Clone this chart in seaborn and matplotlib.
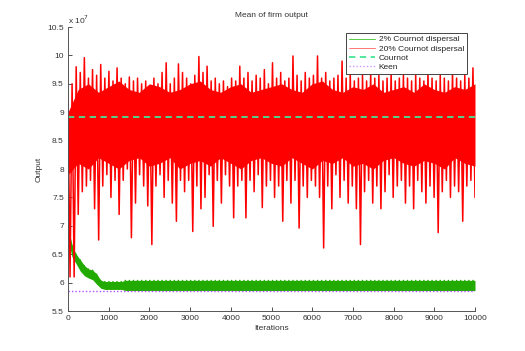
import numpy as np
import pandas as pd
import seaborn as sns
import matplotlib
matplotlib.use('Agg')
import matplotlib.pyplot as plt
from matplotlib.ticker import FuncFormatter
from matplotlib.lines import Line2D

# valores (unidades de 1e7), um par alto/baixo a cada 100 iteracoes
red_high = [9.30, 9.50, 9.80, 9.70, 9.96, 9.60, 9.75, 9.65, 9.84, 9.60,
            9.72, 9.55, 9.78, 9.60, 9.50, 9.62, 9.55, 9.60, 9.50, 9.55,
            9.45, 9.60, 9.50, 9.70, 9.87, 9.50, 9.60, 9.85, 9.70, 9.60,
            9.50, 9.65, 9.98, 9.70, 9.81, 9.55, 9.60, 9.50, 9.55, 9.45,
            9.60, 9.55, 9.81, 9.60, 9.70, 9.55, 9.65, 9.60, 9.75, 9.50,
            9.87, 9.60, 9.70, 9.55, 9.60, 9.99, 9.65, 9.55, 9.70, 9.60,
            9.65, 9.99, 9.60, 9.70, 9.55, 9.60, 9.65, 9.90, 9.60, 9.70,
            9.55, 9.60, 9.65, 9.55, 9.70, 9.60, 9.65, 9.55, 9.60, 9.70,
            9.55, 9.60, 9.65, 9.60, 9.55, 9.65, 9.60, 9.55, 9.70, 9.60,
            9.55, 9.65, 9.60, 9.55, 9.70, 9.60, 9.55, 9.65, 9.60, 9.78]
red_low = [6.10, 6.10, 7.20, 7.60, 7.70, 7.80, 7.30, 6.75, 7.70, 7.90,
           7.50, 7.80, 7.20, 7.80, 8.00, 6.79, 7.40, 7.90, 7.70, 7.35,
           6.67, 7.70, 7.90, 7.50, 7.80, 7.40, 7.08, 7.80, 7.60, 7.80,
           6.90, 7.70, 7.30, 7.50, 7.90, 6.99, 7.80, 7.40, 7.90, 7.70,
           7.14, 7.70, 7.80, 7.14, 7.80, 7.60, 7.90, 7.32, 7.70, 7.80,
           7.50, 7.70, 7.08, 7.80, 7.40, 7.80, 6.96, 7.70, 7.50, 7.80,
           7.70, 7.50, 6.61, 7.70, 7.30, 7.90, 7.50, 7.80, 7.40, 7.70,
           7.30, 6.67, 7.60, 7.80, 7.40, 7.70, 7.30, 7.60, 7.90, 7.50,
           7.70, 7.80, 7.40, 7.70, 7.30, 7.80, 7.60, 7.40, 7.70, 7.50,
           6.88, 7.60, 7.80, 7.50, 7.70, 7.60, 7.08, 7.70, 7.80, 7.50]
# faixa solida (nucleo denso) da serie vermelha, a cada 250 iteracoes
red_core_top = [9.00, 9.40, 9.50, 9.35, 9.45, 9.55, 9.40, 9.35, 9.50, 9.45,
                9.35, 9.40, 9.50, 9.55, 9.40, 9.35, 9.45, 9.50, 9.35, 9.40,
                9.45, 9.50, 9.40, 9.35, 9.50, 9.55, 9.40, 9.35, 9.45, 9.40,
                9.50, 9.35, 9.40, 9.45, 9.35, 9.50, 9.40, 9.35, 9.45, 9.40, 9.50]
red_core_bot = [7.90, 8.10, 8.00, 8.20, 8.10, 8.00, 8.15, 8.20, 8.05, 8.10,
                8.20, 8.00, 8.10, 8.15, 8.05, 8.20, 8.10, 8.00, 8.15, 8.20,
                8.10, 8.05, 8.20, 8.10, 8.00, 8.15, 8.10, 8.20, 8.05, 8.10,
                8.00, 8.15, 8.20, 8.10, 8.05, 8.15, 8.10, 8.00, 8.20, 8.10, 8.05]
green_high = [7.00, 6.65, 6.50, 6.40, 6.30, 6.24, 6.22, 6.15, 6.04, 6.02,
              6.02, 6.02, 6.02, 6.02, 6.04, 6.04, 6.04, 6.04, 6.04, 6.04,
              6.04, 6.04, 6.04, 6.04, 6.04, 6.04, 6.04, 6.04, 6.04, 6.04,
              6.04, 6.04, 6.04, 6.04, 6.04, 6.04, 6.04, 6.04, 6.04, 6.04,
              6.04, 6.04, 6.04, 6.04, 6.04, 6.04, 6.04, 6.04, 6.04, 6.04,
              6.04, 6.04, 6.04, 6.04, 6.04, 6.04, 6.04, 6.04, 6.04, 6.04,
              6.04, 6.04, 6.04, 6.04, 6.04, 6.04, 6.04, 6.04, 6.04, 6.04,
              6.04, 6.04, 6.04, 6.04, 6.04, 6.04, 6.04, 6.04, 6.04, 6.04,
              6.04, 6.04, 6.04, 6.04, 6.04, 6.04, 6.04, 6.04, 6.04, 6.04,
              6.04, 6.04, 6.04, 6.04, 6.04, 6.04, 6.04, 6.04, 6.04, 6.04]
green_low = [6.75, 6.45, 6.33, 6.20, 6.12, 6.08, 6.05, 5.97, 5.90, 5.88,
             5.88, 5.88, 5.88, 5.88, 5.86, 5.86, 5.86, 5.86, 5.86, 5.86,
             5.86, 5.86, 5.86, 5.86, 5.86, 5.86, 5.86, 5.86, 5.86, 5.86,
             5.86, 5.86, 5.86, 5.86, 5.86, 5.86, 5.86, 5.86, 5.86, 5.86,
             5.86, 5.86, 5.86, 5.86, 5.86, 5.86, 5.86, 5.86, 5.86, 5.86,
             5.86, 5.86, 5.86, 5.86, 5.86, 5.86, 5.86, 5.86, 5.86, 5.86,
             5.86, 5.86, 5.86, 5.86, 5.86, 5.86, 5.86, 5.86, 5.86, 5.86,
             5.86, 5.86, 5.86, 5.86, 5.86, 5.86, 5.86, 5.86, 5.86, 5.86,
             5.86, 5.86, 5.86, 5.86, 5.86, 5.86, 5.86, 5.86, 5.86, 5.86,
             5.86, 5.86, 5.86, 5.86, 5.86, 5.86, 5.86, 5.86, 5.86, 5.86]
cournot = 8.92
keen = 5.85
n_iter = 10000

sns.set_style('white')
plt.rcParams['font.family'] = ['Liberation Sans', 'DejaVu Sans']
plt.rcParams['font.size'] = 6

cor_verde = '#22aa00'
cor_verm = '#ff0000'
cor_cournot = '#44e495'
cor_keen = '#b050ff'

# serie em zigue-zague (alto, baixo, alto, baixo...)
it = np.linspace(0, n_iter, 2 * len(red_high))
dados = pd.DataFrame({
    'Iterations': it,
    'red': np.column_stack((red_high, red_low)).ravel() * 1e7,
    'green': np.column_stack((green_high, green_low)).ravel() * 1e7,
})
it_bin = np.linspace(0, n_iter, len(green_high))
it_core = np.linspace(0, n_iter, len(red_core_top))

fig = plt.figure(figsize=(5.25, 3.51), dpi=100)
ax = fig.add_axes([68 / 525, 40 / 351, 407 / 525, 284 / 351])

# verde: faixa + linha
ax.fill_between(it_bin, np.array(green_low) * 1e7, np.array(green_high) * 1e7,
                color=cor_verde, lw=0)
sns.lineplot(data=dados, x='Iterations', y='green', color=cor_verde, lw=0.9,
             estimator=None, sort=False, ax=ax)
# vermelho: nucleo denso + picos
ax.fill_between(it_core, np.array(red_core_bot) * 1e7, np.array(red_core_top) * 1e7,
                color=cor_verm, lw=0)
sns.lineplot(data=dados, x='Iterations', y='red', color=cor_verm, lw=1.1,
             estimator=None, sort=False, ax=ax)
sns.lineplot(x=[0, n_iter], y=[cournot * 1e7] * 2, color=cor_cournot, lw=1.3, ax=ax)
ax.lines[-1].set_linestyle((0, (3.5, 2.5)))
sns.lineplot(x=[0, n_iter], y=[keen * 1e7] * 2, color=cor_keen, lw=1.0, ax=ax)
ax.lines[-1].set_linestyle((0, (1, 1.5)))

ax.set_xlim(0, n_iter)
ax.set_ylim(5.5e7, 10.5e7)
ax.set_xticks(np.arange(0, n_iter + 1, 1000))
ax.set_yticks(np.arange(5.5e7, 10.6e7, 0.5e7))
ax.yaxis.set_major_formatter(FuncFormatter(lambda v, p: f'{v / 1e7:g}'))
ax.tick_params(direction='in', length=3, width=0.6, colors='#333333',
               labelsize=6, pad=3, bottom=True, left=True)
for s in ['top', 'right']:
    ax.spines[s].set_visible(False)
for s in ['left', 'bottom']:
    ax.spines[s].set_color('#555555')
    ax.spines[s].set_linewidth(0.7)

ax.text(0.0, 1.005, 'x 10$^{7}$', transform=ax.transAxes, fontsize=6,
        ha='left', va='bottom', color='#333333')
ax.set_title('Mean of firm output', fontsize=6, pad=7, color='#333333')
ax.set_xlabel('Iterations', fontsize=6, labelpad=2, color='#333333')
ax.set_ylabel('Output', fontsize=6, labelpad=3, color='#333333')

handles = [Line2D([], [], color='#55cc44', lw=0.7),
           Line2D([], [], color='#ff7777', lw=0.7),
           Line2D([], [], color=cor_cournot, lw=1.3, ls=(0, (3.5, 2.5))),
           Line2D([], [], color='#cc99ff', lw=1.0, ls=(0, (1, 1.5)))]
labels = ['2% Cournot dispersal', '20% Cournot dispersal', 'Cournot', 'Keen']
leg = ax.legend(handles, labels, loc='upper right', bbox_to_anchor=(0.98, 0.98),
                borderaxespad=0, fontsize=6, frameon=True, fancybox=False,
                framealpha=1, edgecolor='#444444', handlelength=3.2,
                handletextpad=0.4, labelspacing=0.15, borderpad=0.35)
leg.get_frame().set_linewidth(0.7)

fig.savefig('out.png', dpi=100)
